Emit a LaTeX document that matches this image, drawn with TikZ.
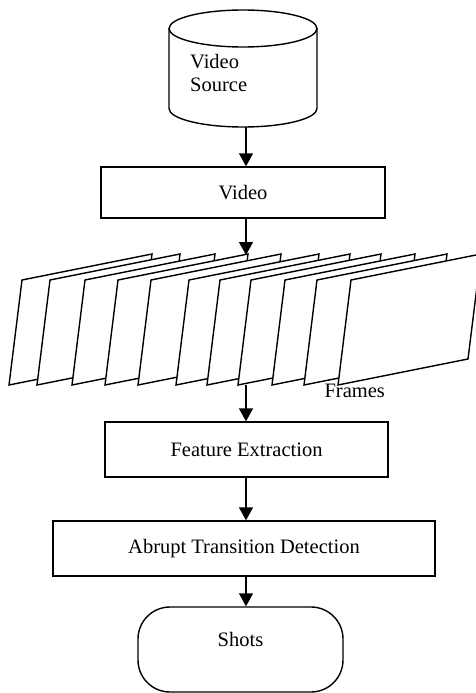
\documentclass[tikz,border=0pt]{standalone}
\usepackage{fontspec}
\setmainfont{Liberation Serif}
\usetikzlibrary{positioning, arrows.meta}

\tikzset{
    box/.style={draw, line width=1.4pt, fill=white},
    arr/.style={-{Triangle[width=14pt,length=13pt]}, line width=1.4pt},
    frame/.style={draw, line width=1.4pt, fill=white, line join=miter}
}

\begin{document}
\begin{tikzpicture}[x=1pt, y=-1pt, font=\fontsize{20.5}{23.5}\selectfont]
    \useasboundingbox (0,0) rectangle (476,693);

    %% source drum
    \draw[box] (169,28.5) -- (169,108.5) arc[start angle=180, end angle=360, x radius=74pt, y radius=18.5pt] -- (317,28.5);
    \draw[box] (243,28.5) ellipse[x radius=74pt, y radius=18.5pt];
    \node[anchor=north west, inner sep=0pt, align=left] (src) at (190,54) {Video\\Source};
    \coordinate (srcbot) at (246,127);

    \node[box, minimum width=284pt, minimum height=51pt] (video) at (243,192.5) {Video};
    \node[box, minimum width=283pt, minimum height=55pt] (feat) at (246.5,449.5) {Feature Extraction};
    \node[box, minimum width=382pt, minimum height=55pt] (abrupt) at (244,548.5) {Abrupt Transition Detection};
    \node[box, rounded corners=32pt, minimum width=205pt, minimum height=85pt, text depth=21pt] (shots) at (240.5,649.5) {Shots};

    %% frames, drawn left to right so each covers the one before
    \foreach \fx in {9,37,72,105,138,176,207,238,272,304,338}
        \draw[frame] (\fx,385) -- ++(13,-105) -- ++(130,-26) -- ++(-13,105) -- cycle;
    \node[anchor=base west] (frames) at (321,397) {Frames};

    \coordinate (ftop) at (246,255);
    \coordinate (fbot) at (246,385);

    \draw[arr] (srcbot) -- (video.north -| srcbot);
    \draw[arr] (video.south -| ftop) -- (ftop);
    \draw[arr] (fbot) -- (feat.north -| fbot);
    \draw[arr] (feat.south -| fbot) -- (abrupt.north -| fbot);
    \draw[arr] (abrupt.south -| fbot) -- (shots.north -| fbot);

\end{tikzpicture}
\end{document}
